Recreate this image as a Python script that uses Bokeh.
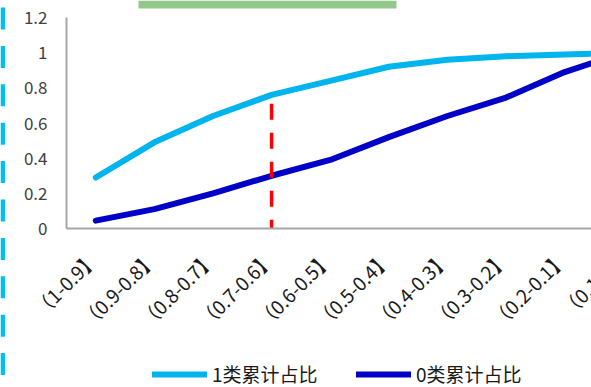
from math import pi

from bokeh.embed import file_html
from bokeh.resources import INLINE
from bokeh.layouts import row, column
from bokeh.plotting import figure
from bokeh.models import (Range1d, FixedTicker, NumeralTickFormatter, Legend,
                          LegendItem, BoxAnnotation, ColumnDataSource)

# score bins, highest first
categories = ["（1-0.9】", "（0.9-0.8】", "（0.8-0.7】", "（0.7-0.6】", "（0.6-0.5】",
              "（0.5-0.4】", "（0.4-0.3】", "（0.3-0.2】", "（0.2-0.1】", "（0.1-0】"]
# cumulative share of each class up to the bin
class1_cum = [0.29, 0.49, 0.64, 0.76, 0.84, 0.92, 0.96, 0.98, 0.99, 1.0]
class0_cum = [0.045, 0.11, 0.20, 0.30, 0.39, 0.52, 0.64, 0.745, 0.89, 1.0]
y_ticks = [0, 0.2, 0.4, 0.6, 0.8, 1.0, 1.2]
series_names = ["1类累计占比", "0类累计占比"]
# chosen cut-off bin and the span of its marker line
cutoff_bin = "（0.7-0.6】"
cutoff_span = [0.71, -0.04]

CYAN = "#00B4EE"
NAVY = "#0000C8"
AXIS_GREY = "#A6A6A6"
FONT = "Noto Sans CJK SC"

# layout geometry (pixels)
W, H = 591, 387
STRIP_W = 5            # decorative strip on the far left
LEFT = 66              # x of the value axis
FRAME_H = 228          # height of the plotting area
PX_PER_BIN = 58.6
PX_PER_UNIT = 175.8
MAIN_W = W - STRIP_W
FRAME_W = W - LEFT
MAIN_H = FRAME_H + 14
BOTTOM_H = H - MAIN_H
LABEL_TOP = 254        # y of the upper end of the rotated bin labels

x_lo = -0.5
x_hi = x_lo + FRAME_W / PX_PER_BIN
y_hi = FRAME_H / PX_PER_UNIT

idx = list(range(len(categories)))
src = ColumnDataSource(dict(x=idx, c1=class1_cum, c0=class0_cum, lab=categories))


def bare(fig):
    fig.outline_line_color = None
    fig.background_fill_color = "white"
    fig.border_fill_color = "white"
    fig.xgrid.visible = False
    fig.ygrid.visible = False
    fig.frame_align = False
    return fig


# ---- main plotting area -------------------------------------------------
p = bare(figure(width=MAIN_W, height=MAIN_H, output_backend="svg",
                toolbar_location=None, x_range=Range1d(x_lo, x_hi),
                y_range=Range1d(0, y_hi), min_border_left=LEFT - STRIP_W,
                min_border_right=0, min_border_top=0,
                min_border_bottom=MAIN_H - FRAME_H))

p.yaxis.ticker = FixedTicker(ticks=y_ticks)
p.yaxis.formatter = NumeralTickFormatter(format="0.[0]")
p.yaxis.bounds = (0, 1.2)
p.yaxis.major_tick_out = 0
p.yaxis.major_tick_in = 0
p.yaxis.minor_tick_out = 0
p.yaxis.minor_tick_in = 0
p.yaxis.axis_line_color = AXIS_GREY
p.yaxis.axis_line_width = 2
p.yaxis.major_label_standoff = 19
p.yaxis.major_label_text_font = FONT
p.yaxis.major_label_text_font_size = "17px"
p.yaxis.major_label_text_color = "#404040"

# category axis: only its line here, the rotated labels sit in the panel below
p.xaxis.ticker = FixedTicker(ticks=[])
p.xaxis.major_tick_out = 0
p.xaxis.major_tick_in = 0
p.xaxis.minor_tick_out = 0
p.xaxis.minor_tick_in = 0
p.xaxis.major_label_standoff = 0
p.xaxis.major_label_text_font_size = "0px"
p.xaxis.axis_line_color = AXIS_GREY
p.xaxis.axis_line_width = 2

p.line("x", "c1", source=src, line_color=CYAN, line_width=6, line_cap="round")
p.line("x", "c0", source=src, line_color=NAVY, line_width=6, line_cap="round")

cx = categories.index(cutoff_bin)
p.segment(x0=[cx], y0=[cutoff_span[0]], x1=[cx], y1=[cutoff_span[1]],
          line_color="#FF0000", line_width=3.5, line_dash="16 13")

# green header band along the top edge
p.add_layout(BoxAnnotation(left=138 - LEFT, right=396 - LEFT, left_units="screen",
                           right_units="screen", top=y_hi, bottom=y_hi - 8 / PX_PER_UNIT,
                           fill_color="#92C88A", fill_alpha=1, line_color=None))

# ---- bin labels and legend ----------------------------------------------
b = bare(figure(width=MAIN_W, height=BOTTOM_H, output_backend="svg",
                toolbar_location=None,
                x_range=Range1d(x_lo - (LEFT - STRIP_W) / PX_PER_BIN, x_hi),
                y_range=Range1d(-BOTTOM_H, 0), x_axis_type=None, y_axis_type=None,
                min_border_left=0, min_border_right=0, min_border_top=0,
                min_border_bottom=0))
b.text(x="x", y=-(LABEL_TOP - MAIN_H), text="lab", source=src, angle=pi / 4,
       x_offset=-2, text_align="right", text_baseline="middle",
       text_font={"value": FONT}, text_font_size="19px", text_color="#1A1A1A")

# legend entries use stand-in lines placed outside the visible range
off = x_lo - 100
for name, color, gx in zip(series_names, [CYAN, NAVY], [152, 356]):
    r = b.line(x=[off, off - 1], y=[0, 0], line_color=color, line_width=6,
               line_cap="round")
    b.add_layout(Legend(items=[LegendItem(label=name, renderers=[r])],
                        location=(gx - STRIP_W, 0), orientation="horizontal",
                        glyph_width=55, glyph_height=20, label_standoff=5,
                        label_text_font=FONT, label_text_font_size="19px",
                        label_text_color="#1A1A1A", label_text_baseline="middle",
                        border_line_color=None, background_fill_alpha=0,
                        padding=0, margin=0))

# ---- decorative strip on the left edge ------------------------------------
s = figure(width=STRIP_W, height=H, output_backend="svg", toolbar_location=None,
           x_range=Range1d(0, STRIP_W), y_range=Range1d(H, 0),
           x_axis_type=None, y_axis_type=None, min_border_left=0,
           min_border_right=0, min_border_top=0, min_border_bottom=0)
bare(s)
tops = [7 + 38.4 * k for k in range(10)]
s.quad(left=0, right=4.5, top=tops, bottom=[t + 22 for t in tops],
       fill_color="#00BFF2", line_color=None)

layout = row(s, column(p, b, spacing=0), spacing=0)
open("out.html", "w").write(file_html(layout, INLINE))
